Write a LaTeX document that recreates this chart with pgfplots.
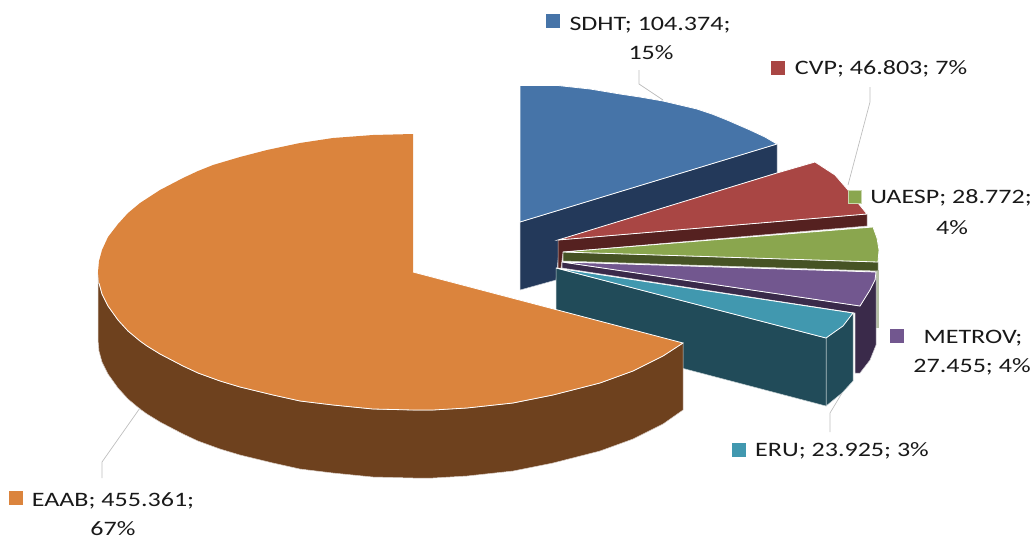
\documentclass[border=0pt]{standalone}
\usepackage{fontspec}
\setmainfont[FakeStretch=1.27]{Carlito}
\usepackage{pgfplots}
\pgfplotsset{compat=1.18}

\definecolor{sdht}{RGB}{70,116,168}
\definecolor{sdhtd}{RGB}{35,57,90}
\definecolor{cvp}{RGB}{169,70,68}
\definecolor{cvpd}{RGB}{85,33,32}
\definecolor{uaesp}{RGB}{138,166,78}
\definecolor{uaespd}{RGB}{70,83,36}
\definecolor{metrov}{RGB}{114,87,143}
\definecolor{metrovd}{RGB}{58,42,74}
\definecolor{eru}{RGB}{65,152,175}
\definecolor{erud}{RGB}{33,75,89}
\definecolor{eaab}{RGB}{219,132,61}
\definecolor{eaabd}{RGB}{110,65,30}
\definecolor{leader}{RGB}{190,190,190}

\pgfplotsset{
    top/.style={fill=#1, draw=white, line width=0.8pt, mark=none},
    side/.style={fill=#1, draw=white!75!#1, line width=0.5pt, mark=none},
    lead/.style={draw=leader, line width=0.7pt, mark=none},
    key/.style={only marks, mark=square*, mark size=6.5pt, mark options={fill=#1, draw=#1}},
}
\newcommand{\lbl}[3]{\node[anchor=center, inner sep=0pt, font=\fontsize{20.5}{24}\selectfont, text=black!90] at (axis cs:#1,#2) {#3};}

\begin{document}
\begin{tikzpicture}
\begin{axis}[
    width=1034pt, height=538pt,
    scale only axis,
    xmin=0, xmax=1034,
    ymin=0, ymax=538,
    y dir=reverse,
    axis line style={draw=none},
    ticks=none,
    clip=false,
]
% SDHT
\addplot[side=sdhtd] coordinates {(520,222) (777,144) (777,173) (560,240) (556,280) (520,290)} -- cycle;
\addplot[top=sdht] coordinates {(520,222) (520,85.5) (558,85.5) (590,89) (620,94) (640,97) (663,101) (680,105) (697,109) (712,114) (727,120) (750,130) (765,137) (777,144)} -- cycle;
% CVP
\addplot[side=cvpd] coordinates {(558,240) (867,214) (867,226) (563,252) (561,268) (558,268)} -- cycle;
\addplot[top=cvp] coordinates {(558,240) (777,173) (815,162) (835,175) (848,190) (858,203) (867,214)} -- cycle;
% UAESP
\addplot[fill={rgb,255:red,181;green,191;blue,165}, draw=none, mark=none] coordinates {(875,270) (879,270) (879,328) (875,328)} -- cycle;
\addplot[side=uaespd] coordinates {(563,252) (878,262) (878,271) (563,261)} -- cycle;
\addplot[top=uaesp] coordinates {(563,252) (873,227) (877,238) (879,250) (878,262)} -- cycle;
% METROV
\addplot[side=metrovd] coordinates {(562,262) (860,306) (876,278) (876,345) (870,360) (860,373) (855,373) (855,313) (562,268)} -- cycle;
\addplot[top=metrov] coordinates {(562,262) (876,272) (875,280) (870,290) (860,306)} -- cycle;
% ERU
\addplot[side=erud] coordinates {(826,338) (853,313) (853,381) (842,393) (826,406)} -- cycle;
\addplot[side=erud] coordinates {(556,268) (826,338) (826,406) (556,335)} -- cycle;
\addplot[top=eru] coordinates {(556,268) (853,313) (843,326) (833,333) (826,338)} -- cycle;
% EAAB
\addplot[side=eaabd] coordinates {(98,272) (99,283) (102,294) (108,306) (118,320) (128,331) (140,341) (147,346) (160,354) (183,366) (198,373) (220,381) (240,387) (273,395) (300,401) (333,405) (373,409) (413,410) (433,410) (467,408) (513,403) (553,395) (600,383) (633,371) (663,356) (683,343) (683,410) (663,424) (633,439) (600,451) (553,463) (513,471) (467,476) (433,478) (413,478) (373,477) (333,473) (300,469) (273,463) (240,455) (220,449) (198,441) (183,434) (160,422) (147,414) (140,409) (128,399) (118,388) (108,374) (102,362) (99,351) (98,340)} -- cycle;
\addplot[fill=eaab, draw=none, mark=none] coordinates {(413,272) (413,134) (373,135) (333,138) (300,143) (267,150) (240,157) (213,165) (198,171) (183,178) (160,190) (140,203) (128,213) (118,224) (108,237) (102,250) (99,261) (98,272) (99,283) (102,294) (108,306) (118,320) (128,331) (140,341) (147,346) (160,354) (183,366) (198,373) (220,381) (240,387) (273,395) (300,401) (333,405) (373,409) (413,410) (433,410) (467,408) (513,403) (553,395) (600,383) (633,371) (663,356) (683,343)} -- cycle;
\addplot[draw=white, line width=0.8pt, mark=none] coordinates {(413,272) (683,343) (663,356) (633,371) (600,383) (553,395) (513,403) (467,408) (433,410) (413,410) (373,409) (333,405) (300,401) (273,395) (240,387) (220,381) (198,373) (183,366) (160,354) (147,346) (140,341) (128,331) (118,320) (108,306) (102,294) (99,283)};
% leader lines
\addplot[lead] coordinates {(639,70) (639,84) (663,100)};
\addplot[lead] coordinates {(870,87) (870,102) (848,185)};
\addplot[lead] coordinates {(842,393) (830,413) (830,432)};
\addplot[lead] coordinates {(140,408) (102,462) (102,478)};
% label keys
\addplot[key=sdht] coordinates {(553,21)};
\addplot[key=cvp] coordinates {(778,68)};
\addplot[only marks, mark=square*, mark size=6.5pt, mark options={fill=uaesp, draw=uaesp!45!white, line width=0.8pt}] coordinates {(855,197)};
\addplot[key=metrov] coordinates {(897,336)};
\addplot[key=eru] coordinates {(739,450)};
\addplot[key=eaab] coordinates {(16,498)};
% labels
\lbl{650}{25}{SDHT; 104.374;}
\lbl{651}{53}{15\%}
\lbl{881}{69}{CVP; 46.803; 7\%}
\lbl{951}{198}{UAESP; 28.772;}
\lbl{952}{228}{4\%}
\lbl{973}{338}{METROV;}
\lbl{972}{367}{27.455; 4\%}
\lbl{842}{451}{ERU; 23.925; 3\%}
\lbl{113}{501}{EAAB; 455.361;}
\lbl{113}{528.5}{67\%}
\end{axis}
\end{tikzpicture}
\end{document}
